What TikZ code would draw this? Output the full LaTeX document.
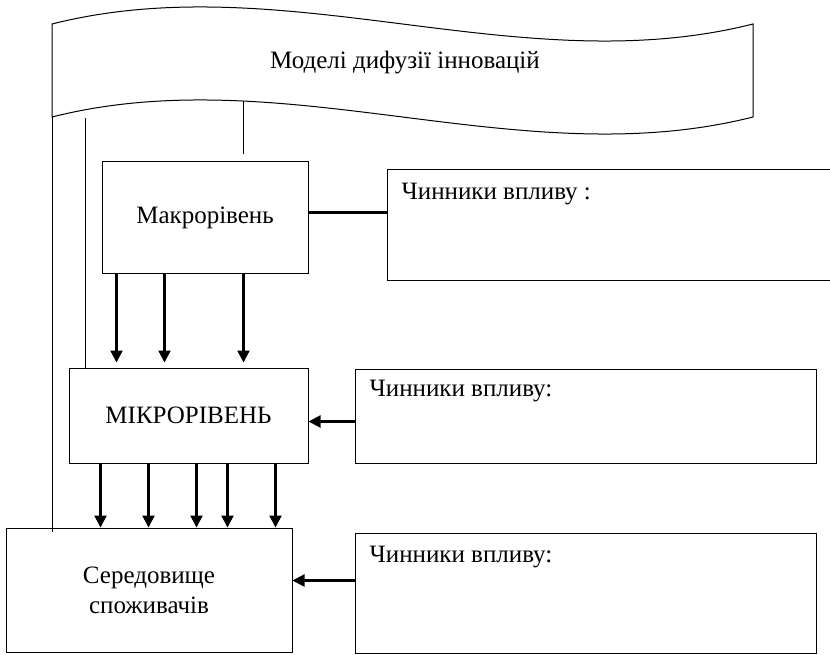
\documentclass[tikz,border=0pt]{standalone}
\usepackage{fontspec}
\setmainfont{Liberation Serif}
\usetikzlibrary{arrows.meta,calc}
\begin{document}
\begin{tikzpicture}[x=1pt,y=-1pt,
  txt/.style={font=\fontsize{25}{30}\selectfont},
  box/.style={draw, line width=1pt, inner sep=0pt, txt, align=center},
  thinline/.style={line width=1pt},
  link/.style={line width=2.2pt},
  arr/.style={line width=2.2pt, -{Triangle[length=12pt,width=12pt]}},
  lbl/.style={anchor=base west, inner sep=0pt, txt}]
\clip (0,0) rectangle (830,655);
% banner (wave)
\draw[thinline, fill=white] (52,24) .. controls (285.7,-35) and (519.3,83) .. (753,24)
  -- (753,117) .. controls (519.3,176) and (285.7,58) .. (52,117) -- cycle;
\node[txt, inner sep=0pt] (title) at (405,63) {Моделі дифузії інновацій};
\coordinate (b1) at (52,117);
\coordinate (b2) at (85,118);
\coordinate (b3) at (243,101);
% main boxes
\node[box, minimum width=206pt, minimum height=111pt] (macro) at (205,217.5) {Макрорівень};
\node[box, minimum width=239pt, minimum height=95pt] (micro) at (188.5,415.5) {МІКРОРІВЕНЬ};
\node[box, minimum width=286pt, minimum height=124pt] (env) at (149,590) {Середовище\\споживачів};
% factor boxes
\node[box, minimum width=460pt, minimum height=110pt] (f1) at (617,225) {};
\node[box, minimum width=461pt, minimum height=94pt] (f2) at (585.5,416) {};
\node[box, minimum width=461pt, minimum height=120pt] (f3) at (585.5,593) {};
\node[lbl] (t1) at ($(f1.north west)+(15,30)$) {Чинники впливу :};
\node[lbl] (t2) at ($(f2.north west)+(15,28)$) {Чинники впливу:};
\node[lbl] (t3) at ($(f3.north west)+(15,30)$) {Чинники впливу:};
% lines from banner
\draw[thinline] (b1) -- ($(b1 |- env.north)+(0,4)$);
\draw[thinline] (b2) -- (b2 |- micro.north);
\draw[thinline] (b3) -- ($(b3 |- macro.north)+(0,-7)$);
% connectors to factor boxes
\coordinate (m1) at ($(macro.north east)+(0,51)$);
\draw[link] (m1) -- (m1 -| f1.west);
\coordinate (a2) at ($(f2.north west)+(0,53)$);
\draw[arr] (a2) -- (a2 -| micro.east);
\coordinate (a3) at ($(f3.north west)+(0,48)$);
\draw[arr] (a3) -- (a3 -| env.east);
% macro -> micro
\foreach \dx [count=\i] in {15,63,142}{
  \coordinate (s\i) at ($(macro.south west)+(\dx,0)$);
  \draw[arr] (s\i) -- ($(s\i |- micro.north)+(0,-5)$);
}
% micro -> env
\foreach \dx [count=\i] in {32,80,128,159,207}{
  \coordinate (u\i) at ($(micro.south west)+(\dx,0)$);
  \draw[arr] (u\i) -- (u\i |- env.north);
}
\end{tikzpicture}
\end{document}
